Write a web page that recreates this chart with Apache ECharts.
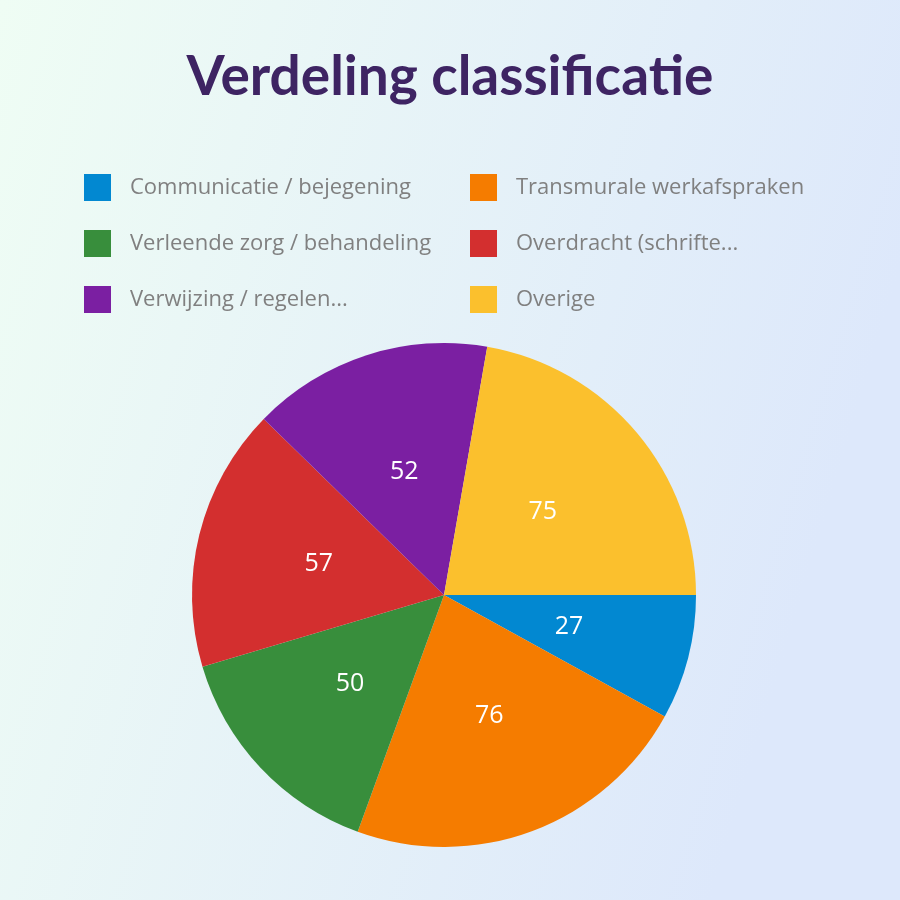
<!DOCTYPE html>
<html>
<head>
<meta charset="utf-8">
<script src="https://cdn.jsdelivr.net/npm/echarts@6/dist/echarts.min.js"></script>
<style>
  html,body{margin:0;padding:0;}
  #chart{width:900px;height:900px;}
</style>
</head>
<body>
<div id="chart"></div>
<script>
const categories = ['Communicatie / bejegening','Transmurale werkafspraken','Verleende zorg / behandeling','Overdracht (schrifte...','Verwijzing / regelen...','Overige'];
const values = [27, 76, 50, 57, 52, 75];
const colors = ['#0288D1','#F57C00','#388E3C','#D32F2F','#7B1FA2','#FBC02D'];
const leftLegend = ['Communicatie / bejegening','Verleende zorg / behandeling','Verwijzing / regelen...'];
const rightLegend = ['Transmurale werkafspraken','Overdracht (schrifte...','Overige'];

const chart = echarts.init(document.getElementById('chart'));
const legendBase = {
  orient:'vertical', top:169, itemWidth:27, itemHeight:27, itemGap:29,
  icon:'rect',
  textStyle:{color:'#808080', fontSize:22, fontFamily:'Open Sans', padding:[0,0,0,14]}
};
chart.setOption({
  backgroundColor:{type:'linear',x:0,y:0,x2:1,y2:0.3,colorStops:[
    {offset:0,color:'#EFFDF4'},{offset:1,color:'#DDE8FB'}]},
  color: colors,
  title:{text:'Verdeling classificatie', left:'center', top:45,
    textStyle:{color:'#3E2463', fontSize:55, fontWeight:'bold', fontFamily:'Lato'}},
  legend:[
    Object.assign({left:79, data:leftLegend}, legendBase),
    Object.assign({left:465, data:rightLegend}, legendBase)
  ],
  series:[{
    type:'pie', center:[444,595], radius:252, startAngle:0, clockwise:true,
    label:{show:true, position:'inside', color:'#fff', fontSize:25, fontFamily:'Open Sans', formatter:'{c}'},
    labelLine:{show:false},
    data: categories.map((n,i)=>({name:n, value:values[i]}))
  }]
});
</script>
</body>
</html>
